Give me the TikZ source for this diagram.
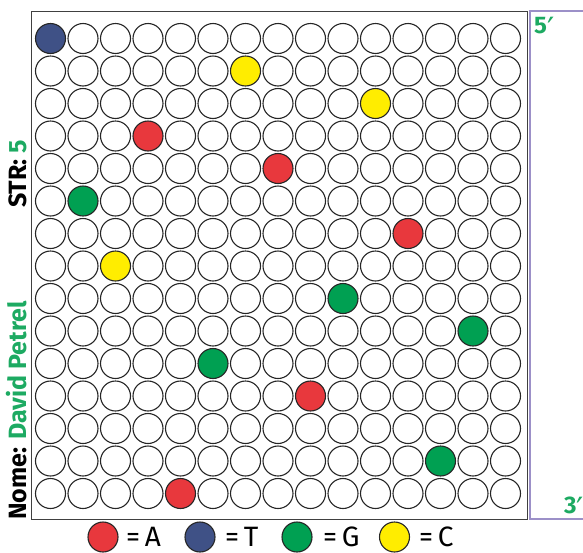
\documentclass[tikz,border=0pt]{standalone}
\usepackage{fontspec}
\setmainfont{Fira Sans}
\newfontfamily\primefont{DejaVu Sans}
\definecolor{nred}{HTML}{E8383D}
\definecolor{nblue}{HTML}{3F5186}
\definecolor{ngreen}{HTML}{00A052}
\definecolor{nyellow}{HTML}{FFED00}
\definecolor{tgreen}{HTML}{1DAA62}
\definecolor{fpurple}{HTML}{9C90C8}
\newcommand{\bigprime}{{\primefont\mdseries\fontsize{32}{34}\selectfont\raisebox{-7pt}{′}}}
\begin{document}
\begin{tikzpicture}[x=1pt,y=-1pt,
  well/.style={circle,draw=black!85,line width=1.1pt,minimum size=30pt,inner sep=0pt,fill=white},
  A/.style={fill=nred},T/.style={fill=nblue},G/.style={fill=ngreen},C/.style={fill=nyellow},
  cell-0-0/.style={T},
  cell-1-6/.style={C},
  cell-2-10/.style={C},
  cell-3-3/.style={A},
  cell-4-7/.style={A},
  cell-5-1/.style={G},
  cell-6-11/.style={A},
  cell-7-2/.style={C},
  cell-8-9/.style={G},
  cell-9-13/.style={G},
  cell-10-5/.style={G},
  cell-11-8/.style={A},
  cell-13-12/.style={G},
  cell-14-4/.style={A},
  lbl/.style={font=\fontsize{28}{30}\selectfont,anchor=base west,inner sep=0pt},
  side/.style={font=\fontsize{25}{27}\selectfont\bfseries,rotate=90,anchor=base west,inner sep=0pt},
  prime/.style={font=\fontsize{24}{26}\selectfont\bfseries,text=tgreen,anchor=base west,inner sep=0pt}]
\useasboundingbox (0,0) rectangle (583,552);
\fill[white] (0,0) rectangle (583,552);
% frames
\node[draw=black!75,line width=1.3pt,minimum width=496pt,minimum height=508pt,inner sep=0pt,anchor=north west] (frame) at (31,11) {};
\coordinate (r1) at (600,11);
\coordinate (r2) at (530,11);
\coordinate (r3) at (530,519);
\coordinate (r4) at (600,519);
\draw[fpurple,line width=1.3pt] (r1) -- (r2) -- (r3) -- (r4);
% wells
\foreach \r in {0,...,14}{
  \foreach \c in {0,...,14}{
    \node[well,cell-\r-\c/.try] (w-\r-\c) at (50.5+32.5*\c, 38.5+32.5*\r) {};
  }
}
% labels
\node[prime] (p5) at (534,33) {5\bigprime};
\node[prime] (p3) at (564,513) {3\bigprime};
\node[side] (nome) at (27,520) {Nome: \textcolor{tgreen}{David Petrel}};
\node[side] (str) at (27,208) {STR: \textcolor{tgreen}{5}};
% legend
\node[well,A] (la) at (103,537) {};
\node[lbl] (ta) at (126,546) {=\,A};
\node[well,T] (lt) at (200,537) {};
\node[lbl] (tt) at (225,546) {=\,T};
\node[well,G] (lg) at (297,537) {};
\node[lbl] (tg) at (323,546) {=\,G};
\node[well,C] (lc) at (394.5,537) {};
\node[lbl] (tc) at (419,546) {=\,C};
\end{tikzpicture}
\end{document}
